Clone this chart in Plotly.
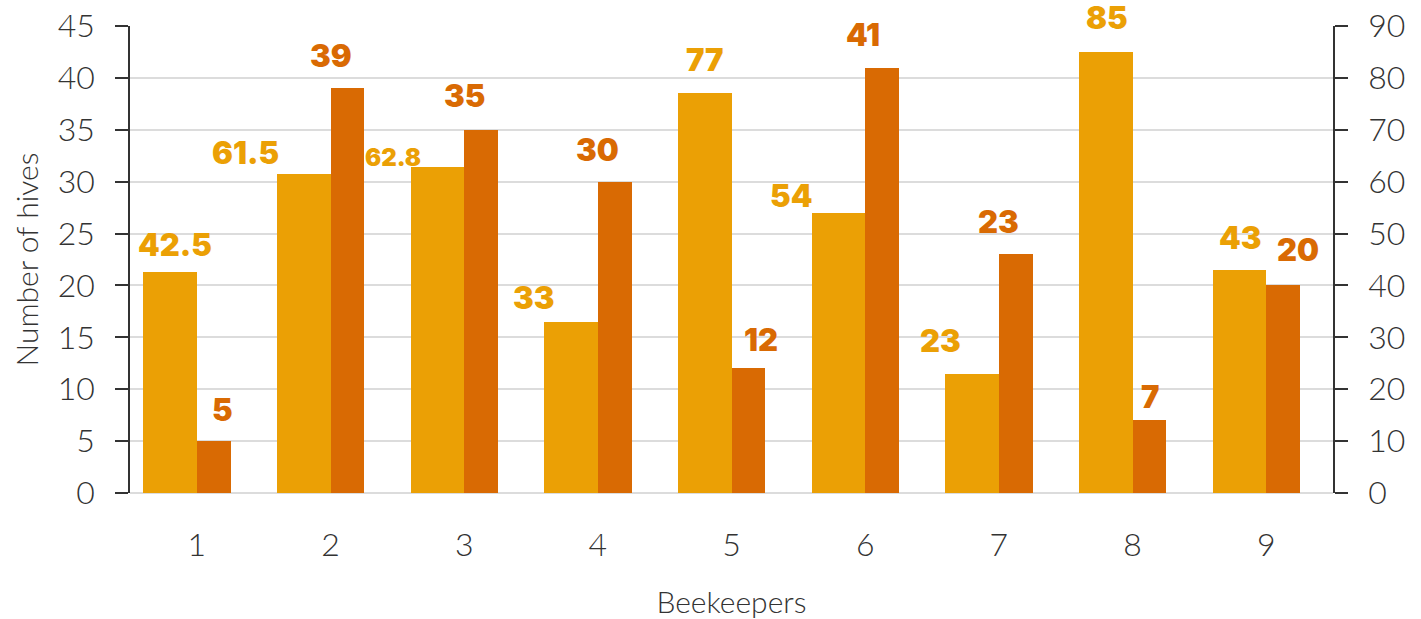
import plotly.graph_objects as go

# Data
beekeepers = [1, 2, 3, 4, 5, 6, 7, 8, 9]
honey_kg = [42.5, 61.5, 62.8, 33, 77, 54, 23, 85, 43]      # right axis (0-90)
hives = [5, 39, 35, 30, 12, 41, 23, 7, 20]                 # left axis (0-45)

YELLOW = "#EBA005"
ORANGE = "#D96A03"
AXIS_TXT = "#333333"
GRID = "#DCDCDC"

# label nudges in pixels (x, y above bar top)
honey_lbl_dx = [-22, -85, -71, -64, -27, -74, -58, -26, -26]
honey_lbl_dy = [28, 21, 10, 24, 34, 17, 33, 34, 32]
honey_lbl_size = [31, 31, 24, 31, 31, 31, 31, 31, 31]
hives_lbl_dx = [26, 0, 0, 0, 29, -2, 0, 17, 32]
hives_lbl_dy = [32, 33, 34, 32, 29, 33, 33, 24, 36]

fig = go.Figure()

fig.add_trace(go.Bar(
    x=beekeepers, y=honey_kg, yaxis="y2",
    width=0.4, offset=-0.4,
    marker=dict(color=YELLOW, line=dict(width=0)),
    name="Honey", showlegend=False,
))
fig.add_trace(go.Bar(
    x=beekeepers, y=hives, yaxis="y",
    width=0.252, offset=0,
    marker=dict(color=ORANGE, line=dict(width=0)),
    name="Hives", showlegend=False,
))

LABEL_FONT = "Inter"
annotations = []
for i, (x, v) in enumerate(zip(beekeepers, honey_kg)):
    annotations.append(dict(
        x=x, y=v, xref="x", yref="y2", text=f"{v:g}", showarrow=False,
        xanchor="center", yanchor="middle",
        xshift=honey_lbl_dx[i], yshift=honey_lbl_dy[i],
        font=dict(family=LABEL_FONT, size=honey_lbl_size[i], color=YELLOW, weight=900),
    ))
for i, (x, v) in enumerate(zip(beekeepers, hives)):
    annotations.append(dict(
        x=x, y=v, xref="x", yref="y", text=f"{v:g}", showarrow=False,
        xanchor="center", yanchor="middle",
        xshift=hives_lbl_dx[i], yshift=hives_lbl_dy[i],
        font=dict(family=LABEL_FONT, size=31, color=ORANGE, weight=900),
    ))

tick_font = dict(family="Lato", size=32, color=AXIS_TXT, weight=300)
title_font = dict(family="Lato", size=30, color=AXIS_TXT, weight=300)

fig.update_layout(
    width=1421, height=619,
    margin=dict(l=130, r=88, t=26, b=126),
    paper_bgcolor="white", plot_bgcolor="white",
    bargap=0, barmode="overlay",
    annotations=annotations,
    xaxis=dict(
        range=[0.5, 9.5], tickmode="array", tickvals=beekeepers,
        ticktext=[str(b) for b in beekeepers],
        showgrid=False, zeroline=False, showline=False, ticks="",
        tickfont=tick_font, ticklabelstandoff=30, automargin=False,
        title=dict(text="Beekeepers", font=title_font, standoff=30),
    ),
    yaxis=dict(
        range=[0, 45], dtick=5, showgrid=True, gridcolor=GRID, gridwidth=1.5,
        zeroline=True, zerolinecolor=GRID, zerolinewidth=2,
        showline=True, linecolor="#333333", linewidth=1.5,
        ticks="outside", ticklen=13, tickcolor="#333333", tickwidth=1.5,
        tickfont=tick_font, ticklabelstandoff=14, automargin=False,
        title=dict(text="Number of hives", font=title_font, standoff=10),
    ),
    yaxis2=dict(
        range=[0, 90], dtick=10, overlaying="y", side="right",
        showgrid=False, zeroline=False,
        showline=True, linecolor="#333333", linewidth=1.5,
        ticks="outside", ticklen=13, tickcolor="#333333", tickwidth=1.5,
        tickfont=tick_font, ticklabelstandoff=14, automargin=False,
    ),
)

fig.write_html("out.html")
